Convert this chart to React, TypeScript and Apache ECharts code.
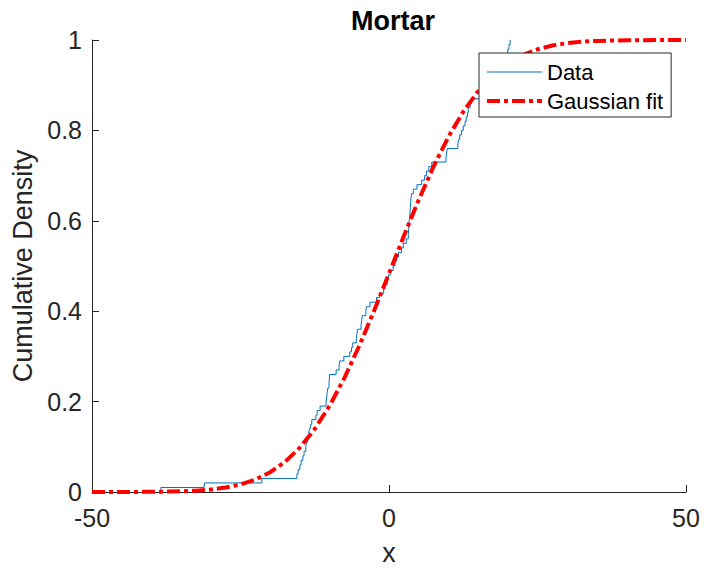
import React, { useEffect, useRef } from "react";
import * as echarts from "echarts";

// Empirical sample values (sorted), read from the staircase
const samples: number[] = [
  -38.4, -31.1, -21.4, -15.5, -15.3, -15.0, -14.8, -14.5, -14.3, -14.0,
  -13.9, -13.7, -13.5, -13.4, -13.2, -13.0, -12.3, -12.1, -11.6, -10.6,
  -10.5, -10.4, -10.3, -10.1, -10.05, -10.0, -8.9, -8.4, -8.3, -7.6,
  -6.6, -6.3, -6.1, -5.5, -5.4, -5.3, -4.7, -4.6, -4.5, -3.9,
  -3.8, -3.2, -2.1, -1.6, -0.9, -0.7, -0.3, -0.1, 0.2, 0.7,
  1.0, 1.3, 1.6, 2.1, 2.4, 2.9, 3.25, 3.3, 3.35, 3.4,
  3.5, 3.55, 3.6, 3.65, 3.7, 3.8, 4.1, 4.7, 5.5, 6.0,
  6.3, 6.7, 7.2, 9.6, 9.7, 9.8, 11.6, 11.7, 11.9, 12.2,
  12.5, 12.8, 13.0, 13.2, 13.35, 13.64, 13.92, 15.6, 16.2, 16.8,
  17.3, 17.8, 18.3, 18.7, 19.1, 19.5, 19.8, 20.0, 20.2, 20.4,
];

// Gaussian fit curve
const fitX: number[] = [
  -50, -45, -40, -37.5, -35, -32.5, -30, -27.5, -25, -22.5, -20, -17.5, -15,
  -12.5, -10, -7.5, -5, -2.5, 0, 2.5, 5, 7.5, 10, 12.5, 15, 17.5, 20, 22.5,
  25, 27.5, 30, 32.5, 35, 40, 45, 50,
];
const fitY: number[] = [
  0.0, 0.0001, 0.0004, 0.0008, 0.0015, 0.003, 0.0055, 0.0098, 0.0168, 0.0276,
  0.0438, 0.0668, 0.0982, 0.1394, 0.1908, 0.2525, 0.3235, 0.4013, 0.4834,
  0.5662, 0.6462, 0.7201, 0.7857, 0.8413, 0.8865, 0.9217, 0.9479, 0.9666,
  0.9794, 0.9878, 0.993, 0.9962, 0.998, 0.9995, 0.9999, 1.0,
];

const xTicks: number[] = [-50, 0, 50];
const yTicks: number[] = [0, 0.2, 0.4, 0.6, 0.8, 1];
const seriesNames: string[] = ["Data", "Gaussian fit"];

const FONT = "'Liberation Sans', Arial, Helvetica, sans-serif";
const AX = "#262626";

export default function App() {
  const ref = useRef<HTMLDivElement>(null);
  useEffect(() => {
    if (!ref.current) return;
    const chart = echarts.init(ref.current, null, { renderer: "svg" });
    const n = samples.length;
    const ecdf: number[][] = [[samples[0], 0]];
    samples.forEach((s, i) => ecdf.push([s, (i + 1) / n]));
    const fit = fitX.map((x, i) => [x, fitY[i]]);

    chart.setOption({
      animation: false,
      backgroundColor: "#ffffff",
      title: {
        text: "Mortar",
        left: 346,
        top: 2,
        textStyle: { fontFamily: FONT, fontSize: 27, fontWeight: "bold", color: "#000" },
      },
      grid: { left: 92, right: 18, top: 40, bottom: 79, containLabel: false },
      legend: {
        data: [
          { name: seriesNames[0], lineStyle: { width: 1 } },
          { name: seriesNames[1], lineStyle: { width: 4 } },
        ],
        orient: "vertical",
        left: 479,
        top: 53,
        itemWidth: 55,
        itemHeight: 14,
        itemGap: 7,
        padding: [8, 8, 5, 6],
        backgroundColor: "#ffffff",
        borderColor: AX,
        borderWidth: 1,
        borderRadius: 0,
        itemStyle: { opacity: 0 },
        textStyle: { fontFamily: FONT, fontSize: 22, lineHeight: 22, color: "#000" },
      },
      xAxis: {
        type: "value",
        min: xTicks[0],
        max: xTicks[xTicks.length - 1],
        interval: 50,
        name: "x",
        nameLocation: "middle",
        nameGap: 47,
        nameTextStyle: { fontFamily: FONT, fontSize: 27, color: AX },
        axisLine: { show: true, onZero: false, lineStyle: { color: AX, width: 1 } },
        axisTick: { show: true, inside: true, length: 7, lineStyle: { color: AX } },
        axisLabel: { fontFamily: FONT, fontSize: 25, color: AX, margin: 13 },
        splitLine: { show: false },
      },
      yAxis: {
        type: "value",
        min: yTicks[0],
        max: yTicks[yTicks.length - 1],
        interval: 0.2,
        name: "Cumulative Density",
        nameLocation: "middle",
        nameGap: 52,
        nameTextStyle: { fontFamily: FONT, fontSize: 27, color: AX },
        axisLine: { show: true, onZero: false, lineStyle: { color: AX, width: 1 } },
        axisTick: { show: true, inside: true, length: 7, lineStyle: { color: AX } },
        axisLabel: { fontFamily: FONT, fontSize: 25, color: AX, margin: 10 },
        splitLine: { show: false },
      },
      series: [
        {
          name: seriesNames[0],
          type: "line",
          step: "end",
          data: ecdf,
          symbol: "none",
          lineStyle: { color: "#0072BD", width: 1 },
          itemStyle: { color: "#0072BD" },
          clip: true,
        },
        {
          name: seriesNames[1],
          type: "line",
          data: fit,
          symbol: "none",
          lineStyle: { color: "#FF0000", width: 4, type: [13, 4, 4, 4], cap: "butt" },
          itemStyle: { color: "#FF0000" },
          clip: true,
        },
      ],
    });
    return () => chart.dispose();
  }, []);
  return (
    <div
      ref={ref}
      style={{ position: "fixed", left: 0, top: 0, width: 704, height: 571 }}
    />
  );
}
